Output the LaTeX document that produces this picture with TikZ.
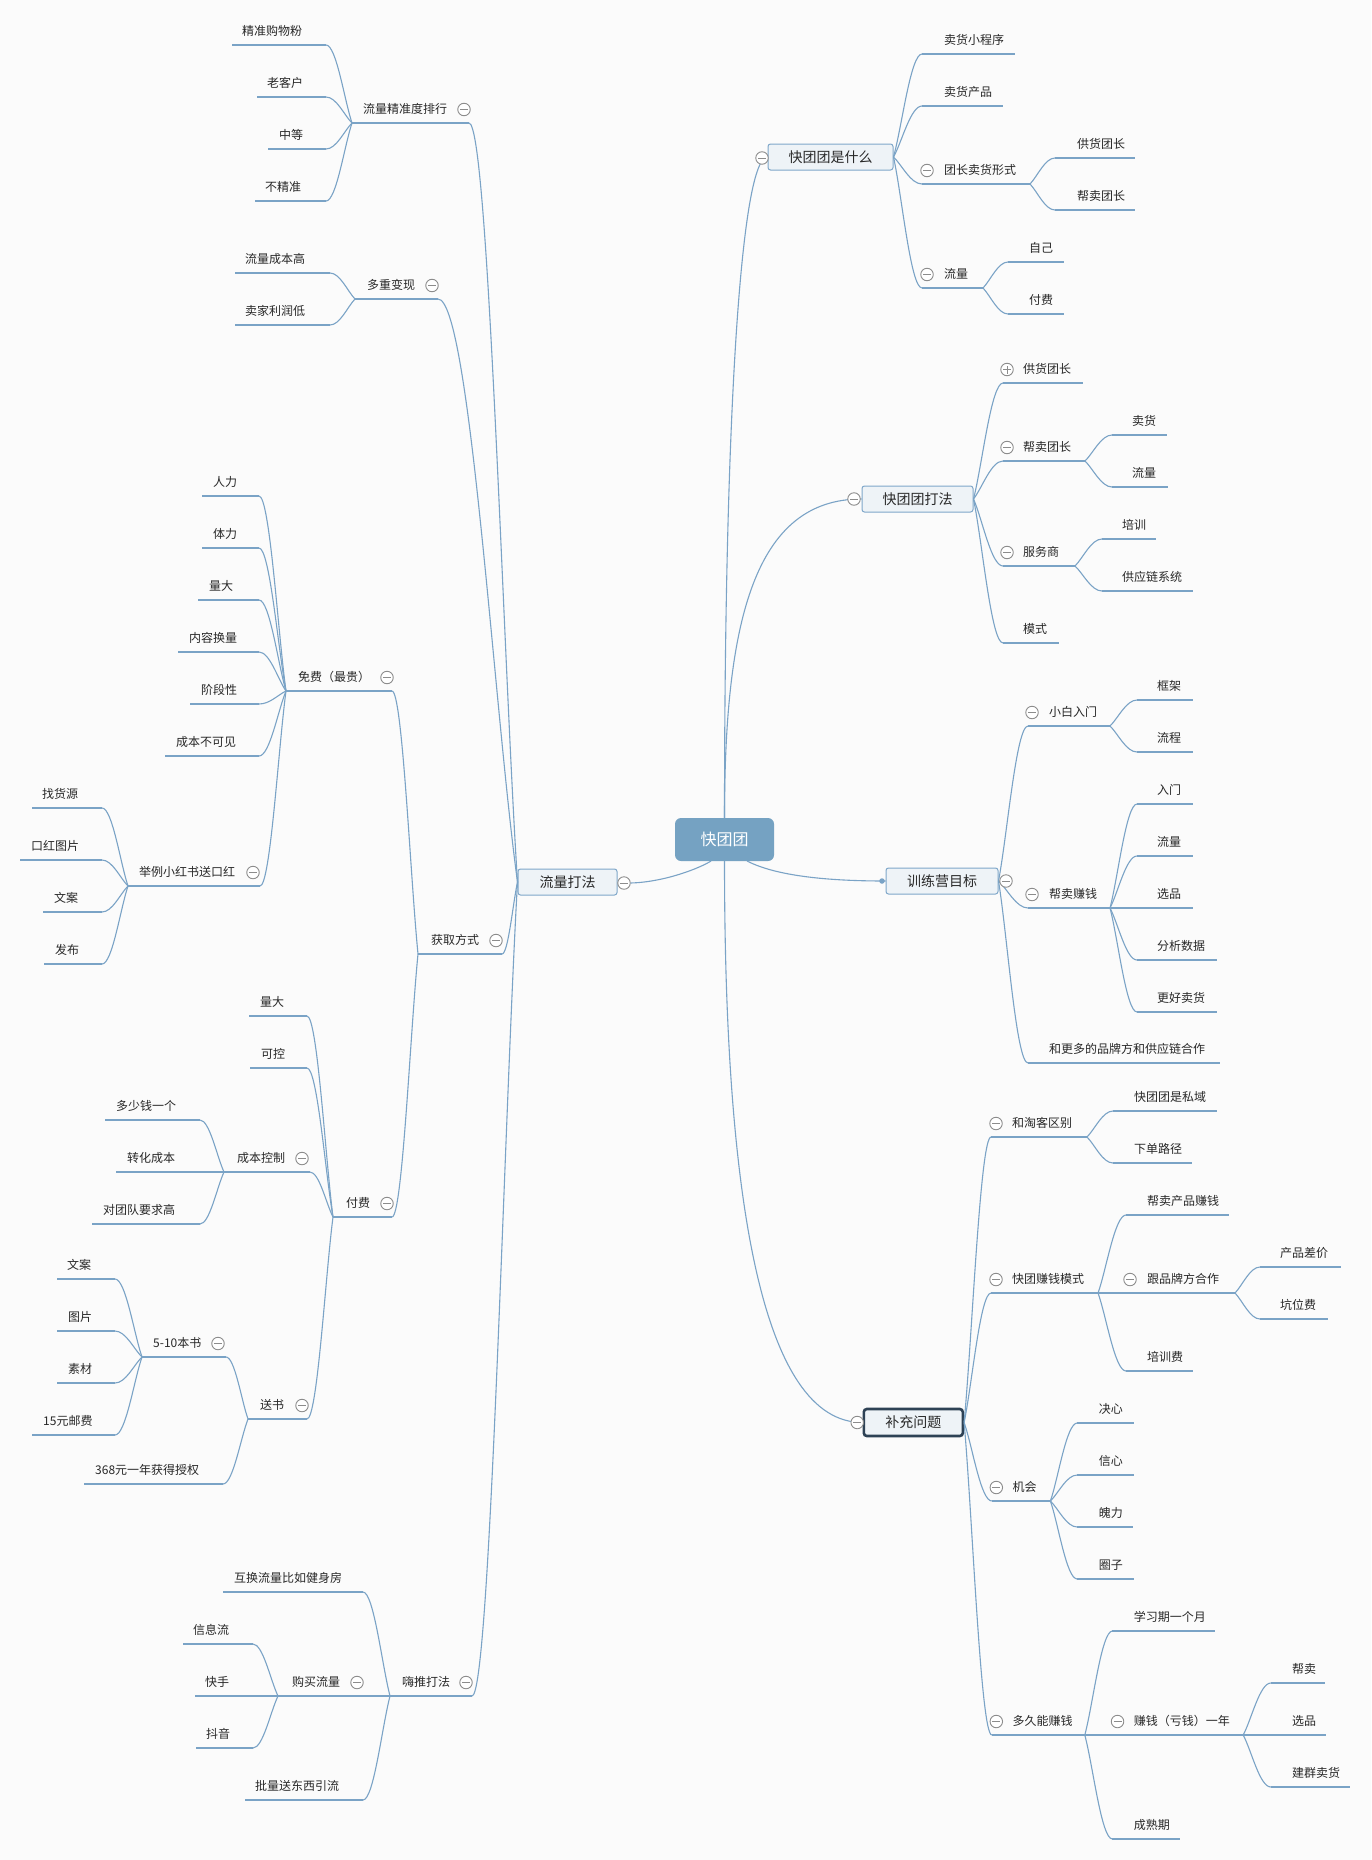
\documentclass[tikz,border=0pt]{standalone}
\usepackage{fontspec}
\newfontfamily\cjk{Noto Sans CJK SC}
\usetikzlibrary{calc}
\definecolor{bg}{RGB}{251,251,251}
\definecolor{ln}{RGB}{122,163,198}
\definecolor{bxfill}{RGB}{238,243,247}
\definecolor{bxdraw}{RGB}{127,167,201}
\definecolor{ctr}{RGB}{117,162,194}
\definecolor{txt}{RGB}{40,40,40}
\definecolor{cg}{RGB}{140,140,140}
\definecolor{dk}{RGB}{46,66,85}
\tikzset{
 lbl/.style={anchor=west,inner sep=0pt,font=\cjk\fontsize{12}{14}\selectfont,text=txt},
 uline/.style={draw=ln,line width=1.1pt},
 cline/.style={draw=ln,line width=1.1pt},
 bx/.style={draw=bxdraw,fill=bxfill,rounded corners=2.5pt,line width=1pt,inner sep=0pt,font=\cjk\fontsize{14}{16}\selectfont,text=txt},
 colm/.style={circle,draw=cg,fill=white,line width=0.9pt,minimum size=12.5pt,inner sep=0pt,
   path picture={\draw[cg,line width=0.9pt] ([xshift=-4pt]path picture bounding box.center)--([xshift=4pt]path picture bounding box.center);}},
 colp/.style={circle,draw=cg,fill=white,line width=0.9pt,minimum size=12.5pt,inner sep=0pt,
   path picture={\draw[cg,line width=0.9pt] ([xshift=-4pt]path picture bounding box.center)--([xshift=4pt]path picture bounding box.center)
     ([yshift=-4pt]path picture bounding box.center)--([yshift=4pt]path picture bounding box.center);}},
}
% topic: name, text x, underline y, underline left x, underline right x, text
\newcommand\tp[6]{%
 \coordinate (#1L) at (#4,#3);
 \coordinate (#1R) at (#5,#3);
 \draw[uline] (#1L) -- (#1R);
 \node[lbl] (#1) at (#2,#3-14) {#6};
}
\newcommand\cn[2]{\draw[cline] (#1) .. controls ($(#1)!0.3!(#2)$) and ($(#1|-#2)!0.6!(#2)$) .. (#2);}
\newcommand\cm[3]{\node[colm] (#1) at (#2,#3) {};}
\begin{document}
\begin{tikzpicture}[x=1pt,y=-1pt]
\fill[bg] (0,0) rectangle (1371,1860);
\useasboundingbox (0,0) rectangle (1371,1860);

% central and first-level boxes
\node[fill=ctr,rounded corners=6pt,minimum width=99pt,minimum height=43pt,inner sep=0pt,font=\cjk\fontsize{16}{18}\selectfont,text=white] (C) at (724.5,839.5) {快团团};
\node[bx,minimum width=125pt,minimum height=26pt] (B1) at (830.5,157) {快团团是什么};
\node[bx,minimum width=111pt,minimum height=26pt] (B2) at (917.5,499) {快团团打法};
\node[bx,minimum width=112pt,minimum height=26pt] (B3) at (942,881) {训练营目标};
\node[bx,draw=dk,line width=2.6pt,rounded corners=3pt,minimum width=99pt,minimum height=27pt] (B4) at (913.3,1422.5) {补充问题};
\node[bx,minimum width=99pt,minimum height=26pt] (B5) at (567.5,882) {流量打法};
\coordinate (csr) at (747,861);
\coordinate (csl) at (711,861);

% ---------- right side topics
\tp{r1}{944}{54}{922}{1015}{卖货小程序}
\tp{r2}{944}{106}{922}{1003}{卖货产品}
\tp{r3}{944}{184}{922}{1030}{团长卖货形式}
\tp{r3a}{1077}{158}{1055}{1135}{供货团长}
\tp{r3b}{1077}{210}{1055}{1135}{帮卖团长}
\tp{r4}{944}{288}{922}{983}{流量}
\tp{r4a}{1029}{262}{1008}{1064}{自己}
\tp{r4b}{1029}{314}{1008}{1064}{付费}

\tp{s1}{1023}{383}{1003}{1083}{供货团长}
\tp{s2}{1023}{461}{1003}{1085}{帮卖团长}
\tp{s2a}{1132}{435}{1112}{1167}{卖货}
\tp{s2b}{1132}{487}{1112}{1168}{流量}
\tp{s3}{1023}{566}{1003}{1075}{服务商}
\tp{s3a}{1122}{539}{1102}{1156}{培训}
\tp{s3b}{1122}{591}{1102}{1193}{供应链系统}
\tp{s4}{1023}{643}{1003}{1059}{模式}

\tp{u1}{1049}{726}{1028}{1110}{小白入门}
\tp{u1a}{1157}{700}{1137}{1193}{框架}
\tp{u1b}{1157}{752}{1137}{1193}{流程}
\tp{u2}{1049}{908}{1028}{1110}{帮卖赚钱}
\tp{u2a}{1157}{804}{1137}{1193}{入门}
\tp{u2b}{1157}{856}{1137}{1193}{流量}
\tp{u2c}{1157}{908}{1137}{1193}{选品}
\tp{u2d}{1157}{960}{1137}{1217}{分析数据}
\tp{u2e}{1157}{1012}{1137}{1217}{更好卖货}
\tp{u3}{1049}{1063}{1028}{1220}{和更多的品牌方和供应链合作}

\tp{v1}{1012}{1137}{991}{1087}{和淘客区别}
\tp{v1a}{1134}{1111}{1113}{1217}{快团团是私域}
\tp{v1b}{1134}{1163}{1113}{1192}{下单路径}
\tp{v2}{1012}{1293}{991}{1098}{快团赚钱模式}
\tp{v2a}{1147}{1215}{1126}{1229}{帮卖产品赚钱}
\tp{v2b}{1147}{1293}{1126}{1235}{跟品牌方合作}
\tp{v2ba}{1280}{1267}{1260}{1341}{产品差价}
\tp{v2bb}{1280}{1319}{1260}{1328}{坑位费}
\tp{v2c}{1147}{1371}{1126}{1193}{培训费}
\tp{v3}{1012.5}{1501}{991.8}{1050.4}{机会}
\tp{v3a}{1098.6}{1423}{1077.2}{1134.4}{决心}
\tp{v3b}{1098.6}{1475}{1077.2}{1134.4}{信心}
\tp{v3c}{1098.6}{1527}{1077.2}{1133}{魄力}
\tp{v3d}{1098.6}{1579}{1077.2}{1134.4}{圈子}
\tp{v4}{1012.5}{1735}{991.8}{1084.8}{多久能赚钱}
\tp{v4a}{1133.7}{1631}{1112.4}{1215}{学习期一个月}
\tp{v4b}{1133.7}{1735}{1112.4}{1243.2}{赚钱（亏钱）一年}
\tp{v4ba}{1292}{1683}{1270.8}{1325.2}{帮卖}
\tp{v4bb}{1292}{1735}{1270.8}{1326}{选品}
\tp{v4bc}{1292}{1787}{1270.8}{1350}{建群卖货}
\tp{v4c}{1133.7}{1839}{1112.4}{1180}{成熟期}

% ---------- left side topics
\tp{w1}{363}{123}{352}{469}{流量精准度排行}
\tp{w1a}{242}{45}{232}{326}{精准购物粉}
\tp{w1b}{267}{97}{257}{326}{老客户}
\tp{w1c}{279}{149}{268}{326}{中等}
\tp{w1d}{265}{201}{255}{326}{不精准}
\tp{w2}{367}{299}{355}{438}{多重变现}
\tp{w2a}{245}{273}{235}{330}{流量成本高}
\tp{w2b}{245}{325}{235}{330}{卖家利润低}
\tp{w3}{431}{954}{418}{502}{获取方式}
\tp{w3a}{298}{691}{286}{392}{免费（最贵）}
\tp{f1}{213}{496}{202}{259}{人力}
\tp{f2}{213}{548}{202}{259}{体力}
\tp{f3}{209}{600}{198}{259}{量大}
\tp{f4}{189}{652}{178}{259}{内容换量}
\tp{f5}{201}{704}{190}{259}{阶段性}
\tp{f6}{176}{756}{165}{259}{成本不可见}
\tp{f7}{139}{886}{128}{260}{举例小红书送口红}
\tp{f7a}{42}{808}{32}{102}{找货源}
\tp{f7b}{31}{860}{20}{102}{口红图片}
\tp{f7c}{54}{912}{43}{102}{文案}
\tp{f7d}{55}{964}{44}{102}{发布}
\tp{w3b}{346}{1217}{333}{392}{付费}
\tp{p1}{260}{1016}{249}{307}{量大}
\tp{p2}{261}{1068}{250}{307}{可控}
\tp{p3}{237}{1172}{224}{310}{成本控制}
\tp{p3a}{116}{1120}{105}{200}{多少钱一个}
\tp{p3b}{127}{1172}{116}{200}{转化成本}
\tp{p3c}{103}{1224}{92}{200}{对团队要求高}
\tp{p4}{260}{1419}{248}{307}{送书}
\tp{p4a}{153}{1357}{142}{226}{5-10本书}
\tp{p4aa}{67}{1279}{57}{115}{文案}
\tp{p4ab}{68}{1331}{57}{115}{图片}
\tp{p4ac}{68}{1383}{57}{115}{素材}
\tp{p4ad}{43}{1435}{32}{115}{15元邮费}
\tp{p4b}{95}{1484}{84}{223}{368元一年获得授权}
\tp{w4}{402}{1696}{390}{472}{嗨推打法}
\tp{h1}{234}{1592}{223}{363}{互换流量比如健身房}
\tp{h2}{292}{1696}{278}{390}{购买流量}
\tp{h2a}{193}{1644}{183}{253}{信息流}
\tp{h2b}{205}{1696}{195}{253}{快手}
\tp{h2c}{206}{1748}{196}{253}{抖音}
\tp{h3}{255}{1800}{245}{363}{批量送东西引流}

\cm{k5}{624}{883}

% ---------- main connectors
\draw[cline] (C.north) .. controls (724.5,400) and (742,157) .. (B1.west);
\draw[cline] (C.north) .. controls (724.5,620) and (755,499) .. (B2.west);
\draw[cline] (csr) .. controls (780,878) and (840,881) .. (B3.west);
\draw[cline] (C.south) .. controls (724.5,1200) and (762,1422.5) .. (B4.west);
\draw[cline] (k5.east) .. controls (665,882) and (700,868) .. (csl);
\node[circle,fill=ln,inner sep=0pt,minimum size=5.5pt] (dot) at (882,881) {};

% ---------- right connectors
\cn{B1.east}{r1L}\cn{B1.east}{r2L}\cn{B1.east}{r3L}\cn{B1.east}{r4L}
\cn{r3R}{r3aL}\cn{r3R}{r3bL}\cn{r4R}{r4aL}\cn{r4R}{r4bL}
\cn{B2.east}{s1L}\cn{B2.east}{s2L}\cn{B2.east}{s3L}\cn{B2.east}{s4L}
\cn{s2R}{s2aL}\cn{s2R}{s2bL}\cn{s3R}{s3aL}\cn{s3R}{s3bL}
\cn{B3.east}{u1L}\cn{B3.east}{u2L}\cn{B3.east}{u3L}
\cn{u1R}{u1aL}\cn{u1R}{u1bL}
\cn{u2R}{u2aL}\cn{u2R}{u2bL}\cn{u2R}{u2cL}\cn{u2R}{u2dL}\cn{u2R}{u2eL}
\cn{B4.east}{v1L}\cn{B4.east}{v2L}\cn{B4.east}{v3L}\cn{B4.east}{v4L}
\cn{v1R}{v1aL}\cn{v1R}{v1bL}
\cn{v2R}{v2aL}\cn{v2R}{v2bL}\cn{v2R}{v2cL}
\cn{v2bR}{v2baL}\cn{v2bR}{v2bbL}
\cn{v3R}{v3aL}\cn{v3R}{v3bL}\cn{v3R}{v3cL}\cn{v3R}{v3dL}
\cn{v4R}{v4aL}\cn{v4R}{v4bL}\cn{v4R}{v4cL}
\cn{v4bR}{v4baL}\cn{v4bR}{v4bbL}\cn{v4bR}{v4bcL}

% ---------- left connectors
\cn{B5.west}{w1R}\cn{B5.west}{w2R}\cn{B5.west}{w3R}\cn{B5.west}{w4R}
\cn{w1L}{w1aR}\cn{w1L}{w1bR}\cn{w1L}{w1cR}\cn{w1L}{w1dR}
\cn{w2L}{w2aR}\cn{w2L}{w2bR}
\cn{w3L}{w3aR}\cn{w3L}{w3bR}
\cn{w3aL}{f1R}\cn{w3aL}{f2R}\cn{w3aL}{f3R}\cn{w3aL}{f4R}\cn{w3aL}{f5R}\cn{w3aL}{f6R}\cn{w3aL}{f7R}
\cn{f7L}{f7aR}\cn{f7L}{f7bR}\cn{f7L}{f7cR}\cn{f7L}{f7dR}
\cn{w3bL}{p1R}\cn{w3bL}{p2R}\cn{w3bL}{p3R}\cn{w3bL}{p4R}
\cn{p3L}{p3aR}\cn{p3L}{p3bR}\cn{p3L}{p3cR}
\cn{p4L}{p4aR}\cn{p4L}{p4bR}
\cn{p4aL}{p4aaR}\cn{p4aL}{p4abR}\cn{p4aL}{p4acR}\cn{p4aL}{p4adR}
\cn{w4L}{h1R}\cn{w4L}{h3R}\draw[cline] (w4L) -- (h2R);
\cn{h2L}{h2aR}\cn{h2L}{h2bR}\cn{h2L}{h2cR}

% ---------- collapse markers on top of lines
\cm{k1}{762}{158}
\cm{k2}{854}{499}
\cm{k3}{1006}{881}
\cm{k4}{857.2}{1422.5}
\cm{cr3}{927}{170.5}
\cm{cr4}{927}{274.5}
\node[colp] (cs1) at (1007,369.5) {};
\cm{cs2}{1007}{447.5}
\cm{cs3}{1007}{552.5}
\cm{cu1}{1032}{712.5}
\cm{cu2}{1032}{894.5}
\cm{cv1}{996}{1123.5}
\cm{cv2}{996}{1279.5}
\cm{cv2b}{1130}{1279.5}
\cm{cv3}{996.3}{1487.5}
\cm{cv4}{996.3}{1721.5}
\cm{cv4b}{1117.5}{1721.5}
\cm{cw1}{464}{109.5}
\cm{cw2}{432}{285.5}
\cm{cw3}{496}{940.5}
\cm{cw3a}{387}{677.5}
\cm{cf7}{253}{872.5}
\cm{cw3b}{387}{1203.5}
\cm{cp3}{302}{1158.5}
\cm{cp4}{302}{1405.5}
\cm{cp4a}{218}{1343.5}
\cm{cw4}{466}{1682.5}
\cm{ch2}{357}{1682.5}
\end{tikzpicture}
\end{document}
